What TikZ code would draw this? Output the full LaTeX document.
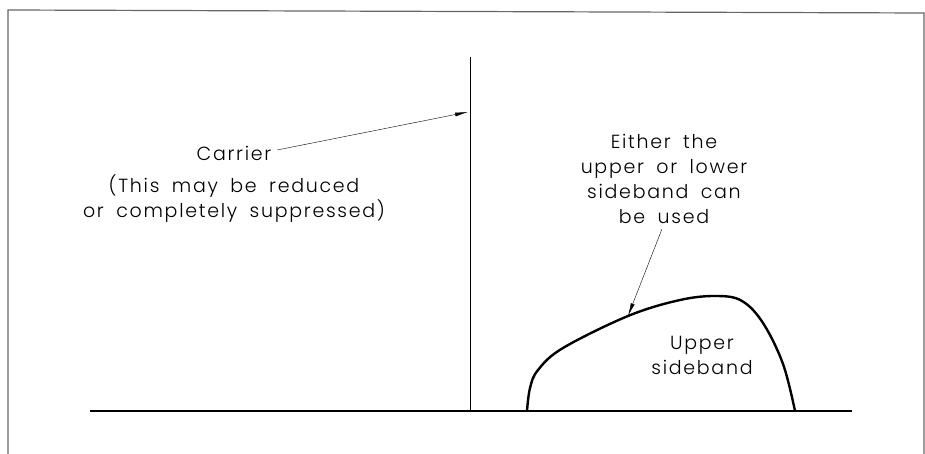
\documentclass[tikz,border=0pt]{standalone}
\usepackage{fontspec}
\setmainfont[UprightFont=* Light, LetterSpace=9, WordSpace=1.8]{Poppins}
\usetikzlibrary{arrows.meta, positioning}

\begin{document}
\begin{tikzpicture}[
  x=1pt, y=-1pt,
  note/.style={align=center, font=\fontsize{19}{25}\selectfont, inner sep=1pt},
  pointer/.style={thin, -{Latex[length=13pt, width=4pt]}},
  frame/.style={line width=1.2pt, draw=black!60},
  axis/.style={line width=1.2pt}
]
\useasboundingbox (0,0) rectangle (925,454);

% Frame
\draw[frame] (8,460) -- (8,10) -- (924,13) -- (924,460);

% Axis and carrier
\coordinate (axisL) at (90,411);
\coordinate (axisR) at (852,411);
\coordinate (carTop) at (470,57);
\coordinate (carBot) at (470,411);
\draw[axis] (axisL) -- (axisR);
\draw[line width=1pt] (carTop) -- (carBot);

% Sideband
\draw[line width=2.4pt, line join=round] plot[smooth, tension=0.6] coordinates
  {(527,411) (530,388) (538,370) (563,348) (628,316) (680,300) (717,296) (742,301) (763,323) (783,364) (795,411)};

% Labels
\node[note, anchor=base] (carrier) at (234,161) {Carrier};
\node[note] (reduced) at (234,199) {(This may be reduced\\or completely suppressed)};
\node[note] (either) at (664,179) {Either the\\upper or lower\\sideband can\\be used};
\node[note] (usb) at (702,355) {Upper\\sideband};

% Pointers
\coordinate (carHit) at (468,112);
\coordinate (sbHit) at (628,316);
\draw[pointer] (carrier.east) ++(5,-4) -- (carHit);
\draw[pointer] (either.south) ++(-2,4) -- (sbHit);

\end{tikzpicture}
\end{document}
